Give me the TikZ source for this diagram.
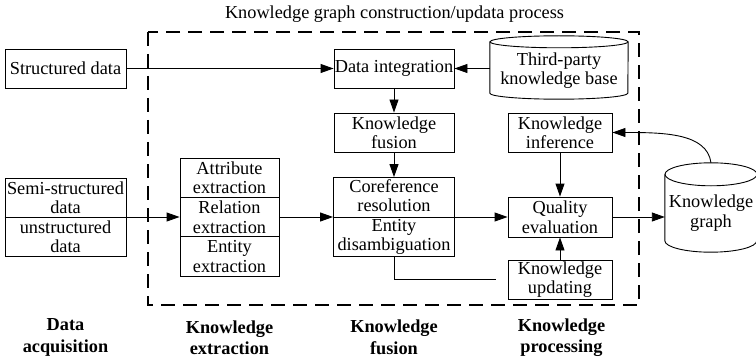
\documentclass[tikz,border=0pt]{standalone}
\usepackage{fontspec}
\setmainfont{Liberation Serif}
\usetikzlibrary{arrows.meta}
\tikzset{
  every node/.style={font=\fontsize{18.3}{19.5}\selectfont},
  box/.style={draw, line width=0.9pt, inner sep=0pt, align=center},
  cylnode/.style={inner sep=0pt, align=center},
  lbl/.style={font=\fontsize{18.3}{21.5}\selectfont\bfseries, align=center},
  frame/.style={line width=1.6pt, dash pattern=on 14pt off 8pt},
  arr/.style={line width=0.9pt, -{Triangle[length=13pt,width=9pt]}},
  ln/.style={line width=0.9pt},
  cyl/.style={line width=0.9pt}
}
\begin{document}
\begin{tikzpicture}[x=1pt,y=-1pt]
\useasboundingbox (0,0) rectangle (756,361);

% title
\node (title) at (394.5,14) {Knowledge graph construction/updata process};

% dashed frame
\draw[frame] (148,32) rectangle (639,305);

% data acquisition
\node[box, minimum width=121, minimum height=39] (sd) at (65.5,68.5) {Structured data};
\node[box, minimum width=121, minimum height=78] (semi) at (65.5,217) {Semi-structured\\data\\unstructured\\data};
\draw[ln] (semi.west) -- (semi.east);

% extraction
\node[box, minimum width=99, minimum height=39.3] (attr) at (229.5,177.7) {Attribute\\extraction};
\node[box, minimum width=99, minimum height=39.3] (rel) at (229.5,217) {Relation\\extraction};
\node[box, minimum width=99, minimum height=39.3] (ent) at (229.5,256.3) {Entity\\extraction};

% fusion
\node[box, minimum width=120, minimum height=39] (di) at (394,68.5) {Data integration};
\node[box, minimum width=120, minimum height=39] (kf) at (394,132.5) {Knowledge\\fusion};
\node[box, minimum width=121, minimum height=79] (cr) at (394,217) {Coreference\\resolution\\Entity\\disambiguation};
\draw[ln] (cr.west) -- (cr.east);

% third-party knowledge base (cylinder)
\node[cylnode, minimum width=138, minimum height=57] (tp) at (559,70.5) {Third-party\\knowledge base};
\draw[cyl] (tp.north) ellipse[x radius=69pt, y radius=6pt];
\draw[cyl] (tp.north west) -- ([yshift=6pt]tp.south west)
  arc[start angle=180, end angle=360, x radius=69pt, y radius=6pt] -- (tp.north east);

% processing
\node[box, minimum width=104, minimum height=39] (ki) at (560,132.5) {Knowledge\\inference};
\node[box, minimum width=104, minimum height=40] (qe) at (560,217) {Quality\\evaluation};
\node[box, minimum width=104, minimum height=39] (ku) at (560,279.5) {Knowledge\\updating};

% knowledge graph (cylinder)
\node[cylnode, minimum width=92, minimum height=77.5] (kg) at (711,213.25) {Knowledge\\graph};
\draw[cyl] (kg.north) ellipse[x radius=46pt, y radius=11.5pt];
\draw[cyl] (kg.north west) -- ([yshift=11.5pt]kg.south west)
  arc[start angle=180, end angle=360, x radius=46pt, y radius=11.5pt] -- (kg.north east);

% connectors
\draw[arr] (sd) -- (di);
\draw[arr] (tp.west |- di) -- (di);
\draw[arr] (di) -- (kf);
\draw[arr] (kf) -- (cr);
\draw[arr] (semi.east) -- (rel.west);
\draw[arr] (rel) -- (cr);
\draw[arr] (cr) -- (qe);
\draw[arr] (ki) -- (qe);
\draw[arr] (ku) -- (qe);
\draw[arr] (qe.east) -- (qe.east -| kg.west);
\draw[arr] ([yshift=11.5pt]kg.north) .. controls +(-4,-30) and +(50,0) .. (ki.east);
\coordinate (ue) at (496,279);
\draw[ln] (cr.south) |- (ue);

% bottom labels
\node[lbl] (l1) at (65.5,337.5) {Data\\acquisition};
\node[lbl] (l2) at (229.5,337.5) {Knowledge\\extraction};
\node[lbl] (l3) at (394,337.5) {Knowledge\\fusion};
\node[lbl] (l4) at (561.5,337.5) {Knowledge\\processing};
\end{tikzpicture}
\end{document}
